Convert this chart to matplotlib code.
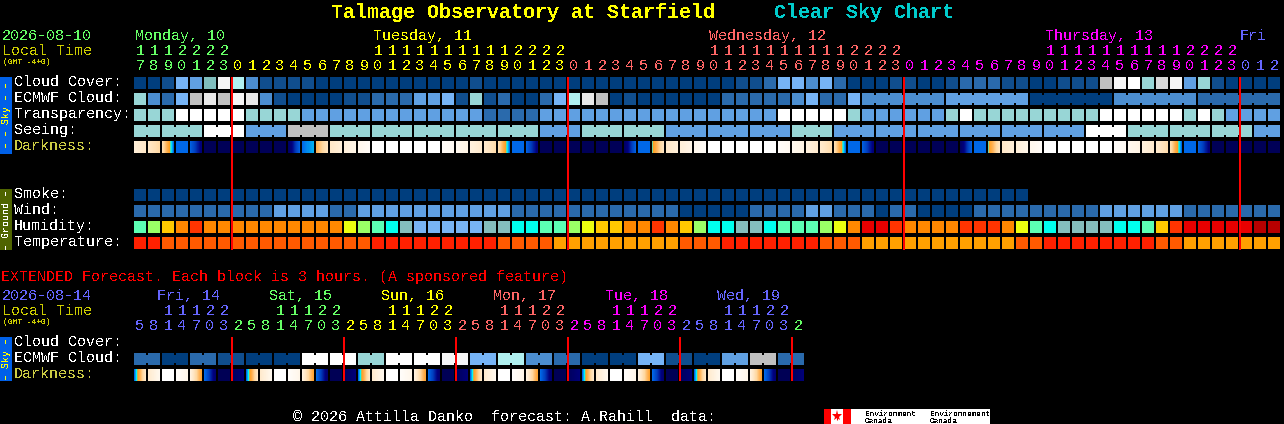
import numpy as np
import matplotlib
matplotlib.use("Agg")
import matplotlib.pyplot as plt
from matplotlib.colors import LinearSegmentedColormap

plt.rcParams['font.family'] = ['Liberation Mono', 'DejaVu Sans Mono']
plt.rcParams['text.antialiased'] = False
plt.rcParams['text.hinting'] = 'native'

# ---------- data ----------
cloud_cover = list("AABFEGMIDB" "BBBAAAAAAA" "AAAABAAAAA" "AAAAAAAAAA" "AAABBCFFDF"
                   "CAAABBAABC" "CCBBAABBBJ" "MWHKMEHBAA" "AA")
ecmwf_cloud = list("HDCFJLJMLD" "BAAAABBCCC" "EEFBHBCAAC" "FILJABAAAA" "AACCCCCDFC"
                   "CF")
ecmwf_runs = list("DEADC")
ecmwf_run_sizes = [6, 6, 6, 6, 6]
transparency = list("HHHWWWWWHH" "HHEEEEEEEE" "EEEEECCCCE" "EEEEEEEEEE" "EEEEEEWWWW"
                    "WHEEEEEEHW" "HHHHHHHHHW" "WWWWWHWHEE" "EE")
seeing_blocks = list("HHWEJHHHHH" "EHHEEEHEEE" "EEEWHHHE")
seeing_sizes = [2] + [3] * 26 + [2]
smoke = list("A" * 64)
wind = list("CCCCCCCCCC" "EEEECCEEEE" "EEEEEEECCC" "CCCCCCCCCA" "AAAACCCCEE"
            "CCCACCAAAA" "CCCCCCCCCE" "EEEEECCCCC" "CC")
humidity = list("MLAOROOOOO" "OOOOOYLMCT" "BBBBBTTCCM" "MLYAAOOROA" "LCCTTCMMML"
                "YODDROOOOR" "RROYMCTTTT" "CCMARDDDDD" "XX")
temperature = list("RRoooooooo" "oooooooRRR" "RRRRRRoooo" "aaaaaaaaao" "ooRRRRRRRo"
                   "ooaaaaaaaa" "aaaooRRRRR" "RRRooaaaaa" "aa")
dark_start = [.14, .20, .26, .60, .62, .92, .92, .92, .92, .92, .92, .88, .60, .40,
              .20, .13, .07, 0, 0, 0, 0, 0, .03, .06, .12, .18, .26, .60, .62, .92,
              .92, .92, .92, .92, .92, .88, .60, .50, .20, .14, .07, 0, 0, 0, 0, 0,
              .02, .06, .12, .18, .26, .60, .62, .92, .92, .92, .92, .92, .92, .88,
              .60, .50, .20, .14, .07, 0, 0, 0, 0, 0, .02, .06, .12, .18, .26, .60,
              .62, .92, .92, .92, .92, .92]
dark_end = [.20, .29, .60, .60, .82, .92, .92, .92, .92, .92, .92, .62, .56, .22,
            .14, .09, .03, 0, 0, 0, 0, 0, .05, .10, .18, .27, .60, .60, .82, .92,
            .92, .92, .92, .92, .92, .62, .60, .22, .14, .09, .03, 0, 0, 0, 0, 0,
            .05, .10, .18, .27, .60, .60, .82, .92, .92, .92, .92, .92, .92, .62,
            .60, .22, .14, .08, .03, 0, 0, 0, 0, 0, .05, .10, .18, .27, .60, .60,
            .82, .92, .92, .92, .92, .92]
main_hours = [17, 18, 19, 20, 21, 22, 23] + list(range(24)) * 3 + [0, 1, 2]

ext_ecmwf = list("CACBAAWWHW" "WMFIDCAAFB" "AEJC")
ext_sizes = [2] * 24
ext_dark_start = [.60, .18, 0, .02, .12, .60, .93, .90,
                  .60, .18, 0, .02, .12, .60, .93, .90,
                  .60, .18, 0, .02, .12, .60, .93, .90,
                  .60, .18, 0, .02, .12, .60, .93, .90,
                  .60, .18, 0, .02, .12, .60, .93, .90,
                  .60, .18, 0, .02, .12, .60, .93, .90]
ext_dark_end = [.20, .06, 0, .08, .45, .85, .93, .82,
                .20, .06, 0, .08, .45, .85, .93, .82,
                .20, .06, 0, .08, .45, .85, .93, .82,
                .20, .06, 0, .08, .45, .85, .93, .82,
                .20, .06, 0, .08, .45, .85, .93, .82,
                .20, .06, 0, .08, .45, .85, .93, .82]
ext_hours = [5, 8, 11, 14, 17, 20, 23] + [2, 5, 8, 11, 14, 17, 20, 23] * 5 + [2]

main_days = ["Monday, 10", "Tuesday, 11", "Wednesday, 12", "Thursday, 13", "Fri"]
ext_days = ["Fri, 14", "Sat, 15", "Sun, 16", "Mon, 17", "Tue, 18", "Wed, 19"]
main_midnights = [7, 31, 55, 79]
ext_midnights = [7, 15, 23, 31, 39, 47]

# ---------- styles ----------
sky = {'A': '#003E7E', 'B': '#104E8E', 'C': '#2A6AAC', 'D': '#4C8ED0', 'E': '#60A0E2',
       'F': '#76B4F6', 'G': '#80BEBE', 'H': '#98D6D6', 'I': '#B0F0F0', 'J': '#C0C0C0',
       'K': '#D8D8D8', 'L': '#E8E8E8', 'M': '#F6F6F6', 'W': '#FFFFFF'}
hum = {'M': '#5CFFB4', 'L': '#9AFF66', 'Y': '#ECFF10', 'A': '#FFC800', 'O': '#FF8800',
       'R': '#FF3400', 'D': '#E80000', 'X': '#B80000', 'C': '#00FFEE', 'T': '#84BEBE',
       'B': '#78B4F4'}
tmp = {'R': '#FF2000', 'o': '#FF5A00', 'a': '#FFA000'}
dark_cmap = LinearSegmentedColormap.from_list('dark', [
    (0.00, '#FFFFFF'), (0.10, '#FFF4E4'), (0.20, '#FFE8C8'), (0.30, '#FFD8A0'),
    (0.40, '#FFB050'), (0.48, '#FF9F20'), (0.52, '#00FFFF'), (0.60, '#0068E8'),
    (0.70, '#0040C0'), (0.80, '#000080'), (0.92, '#000058'), (1.00, '#00004A')])

GREEN, YEL, SAL, MAG, BLU = '#66FF66', '#FFFF00', '#FF6666', '#FF00FF', '#6666FF'
OLIVE = '#CCCC00'
X0, PITCH, BW, BH = 134, 14, 12, 12
W, H = 1284, 424

fig = plt.figure(figsize=(W / 100, H / 100), dpi=100, facecolor='black')
ax = fig.add_axes([0, 0, 1, 1])
ax.set_facecolor('black')
ax.axis('off')


def col_x(i):
    return X0 + i * PITCH


def blocks(values, palette, top):
    xs = [col_x(i) for i in range(len(values))]
    ax.bar(xs, BH, width=BW, bottom=top, align='edge', linewidth=0,
           color=[palette[v] for v in values], antialiased=False, zorder=2)


def joined(values, sizes, palette, top, first=0):
    """Blocks grouped by forecast run, joined with a narrow bridge."""
    i = first
    for val, size in zip(values, sizes):
        ax.bar([col_x(k) for k in range(i, i + size)], BH, width=BW, bottom=top, align='edge',
               linewidth=0, color=palette[val], antialiased=False, zorder=2)
        if size > 1:
            ax.bar([col_x(k) + BW for k in range(i, i + size - 1)], BH - 4, width=PITCH - BW,
                   bottom=top + 2, align='edge', linewidth=0, color=palette[val],
                   antialiased=False, zorder=2)
        i += size


def dark_row(starts, ends, top):
    for i, (a, b) in enumerate(zip(starts, ends)):
        grad = np.linspace(a, b, BW).reshape(1, -1)
        ax.imshow(grad, cmap=dark_cmap, vmin=0, vmax=1, aspect='auto', interpolation='nearest',
                  extent=(col_x(i), col_x(i) + BW, top + BH, top), zorder=2)


def label(x, y, s, color='white', size=10.8, **kw):
    ax.text(x, y, s, color=color, fontsize=size, ha=kw.pop('ha', 'left'), va='baseline',
            zorder=5, **kw)


def hour_labels(hours, colors, tens_y, unit_y):
    for i, (h, c) in enumerate(zip(hours, colors)):
        cx = col_x(i) + BW / 2
        if h >= 10:
            label(cx, tens_y, str(h // 10), c, ha='center')
        label(cx, unit_y, str(h % 10), c, ha='center')


# ---------- main grid ----------
blocks(cloud_cover, sky, 77)
blocks(ecmwf_cloud, sky, 93)
joined(ecmwf_runs, ecmwf_run_sizes, sky, 93, first=len(ecmwf_cloud))
blocks(transparency, sky, 109)
joined(seeing_blocks, seeing_sizes, sky, 125)
dark_row(dark_start, dark_end, 141)
blocks(smoke, sky, 189)
blocks(wind, sky, 205)
blocks(humidity, hum, 221)
blocks(temperature, tmp, 237)

# ---------- extended grid ----------
joined(ext_ecmwf, ext_sizes, sky, 353)
dark_row(ext_dark_start, ext_dark_end, 369)

# midnight lines
ax.vlines([col_x(i) for i in main_midnights], 77, 250, color='#FF0000', linewidth=1.44,
          capstyle='butt', zorder=4)
ax.vlines([col_x(i) for i in ext_midnights], 337, 381, color='#FF0000', linewidth=1.44,
          capstyle='butt', zorder=4)

# ---------- side bars ----------
ax.bar([0], [77], width=12, bottom=77, align='edge', color='#0060E8', linewidth=0, zorder=2)
ax.bar([0], [61], width=12, bottom=189, align='edge', color='#4F6400', linewidth=0, zorder=2)
ax.bar([0], [44], width=12, bottom=337, align='edge', color='#0060E8', linewidth=0, zorder=2)
for yc, s, c in [(115.5, "\u2013 \u2013 Sky \u2013 \u2013", YEL), (219.5, "\u2013 Ground \u2013", '#FFFFFF'),
                 (359, "\u2013 Sky \u2013", YEL)]:
    ax.text(6, yc, s, color=c, fontsize=7.2, rotation=90, ha='center', va='center', zorder=5)

# ---------- text ----------
label(331, 18, "Talmage Observatory at Starfield", YEL, 14.4, fontweight='bold')
label(774, 18, "Clear Sky Chart", '#00CCCC', 14.4, fontweight='bold')

label(2, 40, "2026-08-10", GREEN)
for x, s, c in zip([135, 373, 709, 1045, 1240], main_days, [GREEN, YEL, SAL, MAG, BLU]):
    label(x, 40, s, c)
label(2, 55, "Local Time", OLIVE)
label(3, 64, "(GMT -4+0)", OLIVE, 5.8)
main_colors = [GREEN] * 7 + [YEL] * 24 + [SAL] * 24 + [MAG] * 24 + [BLU] * 3
hour_labels(main_hours, main_colors, 55, 70)

for y, s, c in [(86, "Cloud Cover:", 'white'), (102, "ECMWF Cloud:", 'white'),
                (118, "Transparency:", 'white'), (134, "Seeing:", 'white'),
                (150, "Darkness:", '#CCCC44'), (198, "Smoke:", 'white'), (214, "Wind:", 'white'),
                (230, "Humidity:", 'white'), (246, "Temperature:", 'white'),
                (346, "Cloud Cover:", 'white'), (362, "ECMWF Cloud:", 'white'),
                (378, "Darkness:", '#CCCC44')]:
    label(14, y, s, c)

label(1, 281, "EXTENDED Forecast. Each block is 3 hours. (A sponsored feature)", '#FF0000')
label(2, 300, "2026-08-14", BLU)
for k, (s, c) in enumerate(zip(ext_days, [BLU, GREEN, YEL, SAL, MAG, BLU])):
    label(157 + 112 * k, 300, s, c)
label(2, 315, "Local Time", OLIVE)
label(3, 324, "(GMT -4+0)", OLIVE, 5.8)
ext_colors = [BLU] * 7 + [GREEN] * 8 + [YEL] * 8 + [SAL] * 8 + [MAG] * 8 + [BLU] * 8 + [GREEN]
hour_labels(ext_hours, ext_colors, 315, 330)

label(293, 421, "\u00a9 2026 Attilla Danko  forecast: A.Rahill  data:")

# ---------- Environment Canada logo ----------
ax.bar([824], [15], width=166, bottom=409, align='edge', color='white', linewidth=0, zorder=2)
ax.bar([824, 843], [15, 15], width=[7, 8], bottom=409, align='edge', color='#FF0000', linewidth=0, zorder=3)
ax.plot([837], [415.5], marker='*', ms=8, color='#FF0000', mew=0, zorder=4)
ax.vlines([837], 416, 420, color='#FF0000', linewidth=0.8, zorder=4)
for x, a, b in [(865, "Environment", "Canada"), (930, "Environnement", "Canada")]:
    label(x, 416, a, 'black', 5.6)
    label(x, 423, b, 'black', 5.6)

ax.set_xlim(0, W)
ax.set_ylim(H, 0)
fig.savefig('out.png', dpi=100, facecolor='black')
